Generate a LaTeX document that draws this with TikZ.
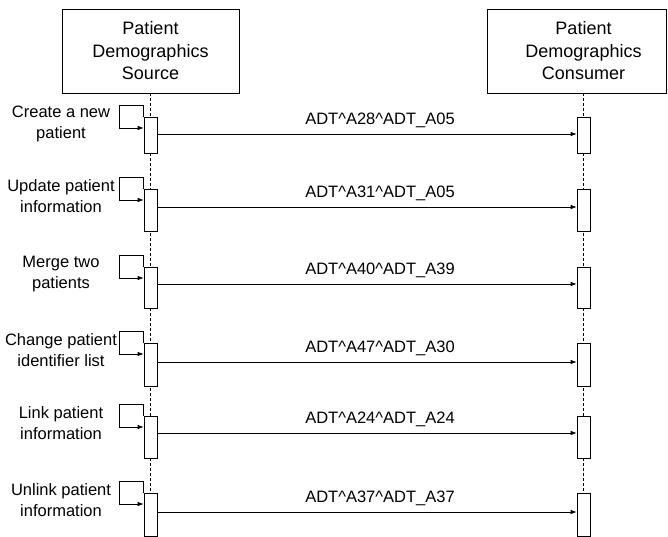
\documentclass[tikz,border=0pt]{standalone}
\usepackage{fontspec}
\setmainfont{Liberation Sans}
\usetikzlibrary{arrows.meta}
\begin{document}
\begin{tikzpicture}[x=1pt,y=-1pt,
 line width=0.7pt,
 hdr/.style={draw, minimum width=177pt, minimum height=84pt, inner sep=0pt},
 hdrtext/.style={align=center, font=\fontsize{18}{22.5}\selectfont},
 bar/.style={draw, fill=white, minimum width=13pt, inner sep=0pt, anchor=north},
 life/.style={dash pattern=on 3pt off 2pt, line width=0.6pt},
 msg/.style={-{Latex[length=6pt,width=4.5pt]}},
 lbl/.style={align=center, font=\fontsize{16.5}{20.5}\selectfont},
 mlbl/.style={font=\fontsize{16.5}{20}\selectfont, anchor=base}]
\useasboundingbox (0,0) rectangle (668,536);
% headers
\node[hdr, hdrtext] (src) at (150.5,51) {Patient\\Demographics\\Source};
\node[hdr, minimum width=179pt] (conbox) at (576.5,51) {};
\node[hdrtext] (con) at (583.5,51) {Patient\\Demographics\\Consumer};
\coordinate (srcend) at (150.5,536);
\coordinate (conend) at (583.5,536);
\draw[life] (src.south) -- (srcend);
\draw[life] (con |- conbox.south) -- (conend);
\foreach \i/\t/\m/\h/\lab/\mt in {
 1/117/134/36/{Create a new\\patient}/{ADT\textasciicircum A28\textasciicircum ADT\_A05},
 2/189/207/42/{Update patient\\information}/{ADT\textasciicircum A31\textasciicircum ADT\_A05},
 3/267/284/41/{Merge two\\patients}/{ADT\textasciicircum A40\textasciicircum ADT\_A39},
 4/343/362/43/{Change patient\\identifier list}/{ADT\textasciicircum A47\textasciicircum ADT\_A30},
 5/416/433/42/{Link patient\\information}/{ADT\textasciicircum A24\textasciicircum ADT\_A24},
 6/493/512/43/{Unlink patient\\information}/{ADT\textasciicircum A37\textasciicircum ADT\_A37}}
{
 \node[bar, minimum height=\h pt] (s\i) at (150.5,\t) {};
 \node[bar, minimum height=\h pt] (c\i) at (583.5,\t) {};
 \coordinate (m\i) at (366,\m);
 \coordinate (l\i) at (119,\t-12);
 \coordinate (a\i) at (119,\t+11);
 \node[lbl] (n\i) at (61,\t+7) {\lab};
 \node[mlbl] (t\i) at (380,\m-10) {\mt};
 \draw[msg] (s\i.north west) -- (s\i.north west |- l\i) -- (l\i) -- (a\i) -- (s\i.west |- a\i);
 \draw[msg] (s\i.east |- m\i) -- (c\i.west |- m\i);
}
\end{tikzpicture}
\end{document}
